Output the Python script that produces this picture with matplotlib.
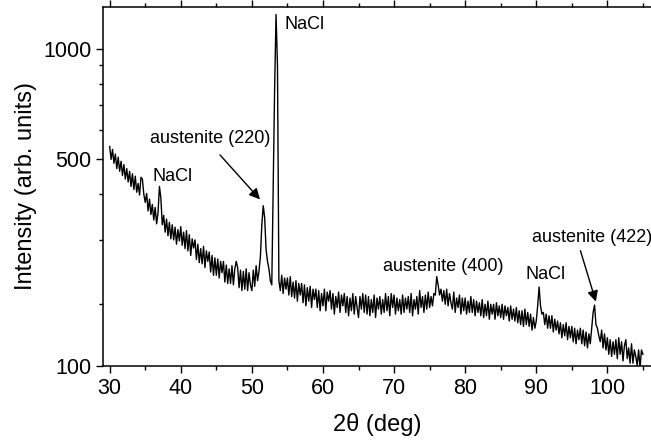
import numpy as np
import matplotlib.pyplot as plt
from matplotlib.ticker import FixedLocator, NullFormatter

plt.rcParams['font.family'] = ['Liberation Sans', 'DejaVu Sans']

# scan grid: 30 to 105 deg, step 0.2
two_theta = np.round(np.arange(30.0, 105.0001, 0.2), 1)

# intensity, one row per degree (N.0, N.2, N.4, N.6, N.8)
intensity = [
    540, 498, 530, 486, 515,   # 30
    470, 505, 462, 492, 450,   # 31
    482, 440, 470, 432, 462,   # 32
    420, 455, 412, 448, 405,   # 33
    428, 398, 445, 440, 400,   # 34
    380, 402, 360, 388, 352,   # 35
    375, 340, 368, 332, 356,   # 36
    420, 390, 330, 350, 315,   # 37
    342, 308, 335, 302, 330,   # 38
    300, 325, 292, 320, 298,   # 39
    326, 290, 315, 284, 318,   # 40
    280, 310, 272, 302, 285,   # 41
    300, 265, 292, 260, 284,   # 42
    258, 288, 252, 280, 262,   # 43
    278, 245, 272, 240, 268,   # 44
    240, 266, 236, 262, 244,   # 45
    262, 230, 256, 228, 250,   # 46
    228, 255, 226, 250, 262,   # 47
    252, 222, 248, 218, 246,   # 48
    220, 250, 218, 244, 226,   # 49
    218, 248, 224, 255, 232,   # 50
    246, 270, 330, 372, 345,   # 51
    282, 262, 250, 232, 226,   # 52
    420, 780, 1240, 900, 232,  # 53
    218, 240, 214, 236, 220,   # 54
    236, 212, 238, 210, 230,   # 55
    208, 232, 204, 228, 212,   # 56
    228, 202, 226, 198, 222,   # 57
    204, 224, 196, 220, 206,   # 58
    220, 196, 218, 192, 214,   # 59
    198, 220, 192, 216, 204,   # 60
    218, 194, 214, 188, 210,   # 61
    196, 216, 190, 212, 198,   # 62
    214, 190, 210, 186, 208,   # 63
    192, 214, 188, 210, 196,   # 64
    184, 210, 194, 214, 190,   # 65
    212, 188, 210, 186, 206,   # 66
    190, 212, 184, 208, 194,   # 67
    210, 188, 206, 190, 214,   # 68
    192, 210, 186, 214, 196,   # 69
    212, 188, 208, 192, 206,   # 70
    188, 212, 190, 208, 194,   # 71
    210, 190, 214, 186, 206,   # 72
    194, 210, 188, 218, 196,   # 73
    210, 190, 212, 194, 216,   # 74
    196, 210, 198, 214, 212,   # 75
    238, 226, 212, 220, 204,   # 76
    218, 200, 220, 198, 214,   # 77
    202, 194, 216, 190, 208,   # 78
    196, 212, 188, 208, 192,   # 79
    208, 188, 204, 190, 210,   # 80
    190, 206, 186, 204, 190,   # 81
    202, 186, 206, 184, 200,   # 82
    186, 204, 182, 200, 188,   # 83
    200, 182, 202, 186, 198,   # 84
    184, 200, 182, 198, 186,   # 85
    196, 180, 198, 182, 194,   # 86
    180, 196, 178, 192, 176,   # 87
    192, 174, 194, 176, 190,   # 88
    174, 188, 170, 184, 172,   # 89
    180, 198, 223, 198, 188,   # 90
    190, 176, 188, 172, 186,   # 91
    172, 186, 168, 182, 170,   # 92
    180, 166, 178, 162, 176,   # 93
    164, 178, 160, 174, 162,   # 94
    174, 158, 172, 156, 170,   # 95
    160, 172, 156, 170, 154,   # 96
    168, 152, 166, 156, 172,   # 97
    190, 199, 176, 172, 164,   # 98
    158, 170, 152, 166, 150,   # 99
    162, 146, 160, 144, 158,   # 100
    146, 160, 142, 162, 146,   # 101
    158, 140, 154, 160, 142,   # 102
    152, 138, 156, 138, 150,   # 103
    144, 136, 150, 134, 150,   # 104
    146,                       # 105
]

# peak labels: text, text position, arrow tail and tip (None = no arrow)
labels = ['NaCl', 'NaCl', 'austenite (220)', 'austenite (400)', 'NaCl', 'austenite (422)']
label_x = [38.8, 57.4, 44.2, 76.9, 91.3, 97.8]
label_y = [446, 1163, 567, 254, 241, 304]
arrow_tail = [None, None, (45.25, 519), None, None, (96.1, 285)]
arrow_tip = [None, None, (51.4, 382), None, None, (98.5, 200)]

fig = plt.figure(figsize=(6.51, 4.42), dpi=100)
ax = fig.add_axes([103 / 651, 76 / 442, 548 / 651, 359 / 442])

ax.plot(two_theta, intensity, color='black', lw=1.0)

ax.set_yscale('log')
ax.set_xlim(29.06, 106.14)
ax.set_ylim(135.6, 1300)

# y ticks: Origin labelled the bottom of the axis as 100
ax.yaxis.set_major_locator(FixedLocator([135.6, 500, 1000]))
ax.set_yticklabels(['100', '500', '1000'])
ax.yaxis.set_minor_locator(FixedLocator([200, 300, 400, 600, 700, 800, 900]))
ax.yaxis.set_minor_formatter(NullFormatter())

ax.set_xticks(np.arange(30, 101, 10))
ax.set_xticks(np.arange(35, 106, 10), minor=True)

ax.tick_params(which='both', direction='out', labelsize=15.5, width=1)
ax.tick_params(which='major', length=5)
ax.tick_params(which='minor', length=3)
ax.tick_params(axis='x', which='both', top=True)

for s in ax.spines.values():
    s.set_linewidth(1.1)
ax.spines['right'].set_visible(False)

ax.set_xlabel('2θ (deg)', fontsize=17, labelpad=10)
ax.set_ylabel('Intensity (arb. units)', fontsize=17)

for i in range(len(labels)):
    ax.text(label_x[i], label_y[i], labels[i], fontsize=13,
            ha='center', va='center')
    if arrow_tip[i] is not None:
        ax.annotate('', xy=arrow_tip[i], xytext=arrow_tail[i],
                    arrowprops=dict(arrowstyle='-|>', color='black',
                                    lw=1.0, mutation_scale=16))

fig.savefig('out.png', dpi=100)
